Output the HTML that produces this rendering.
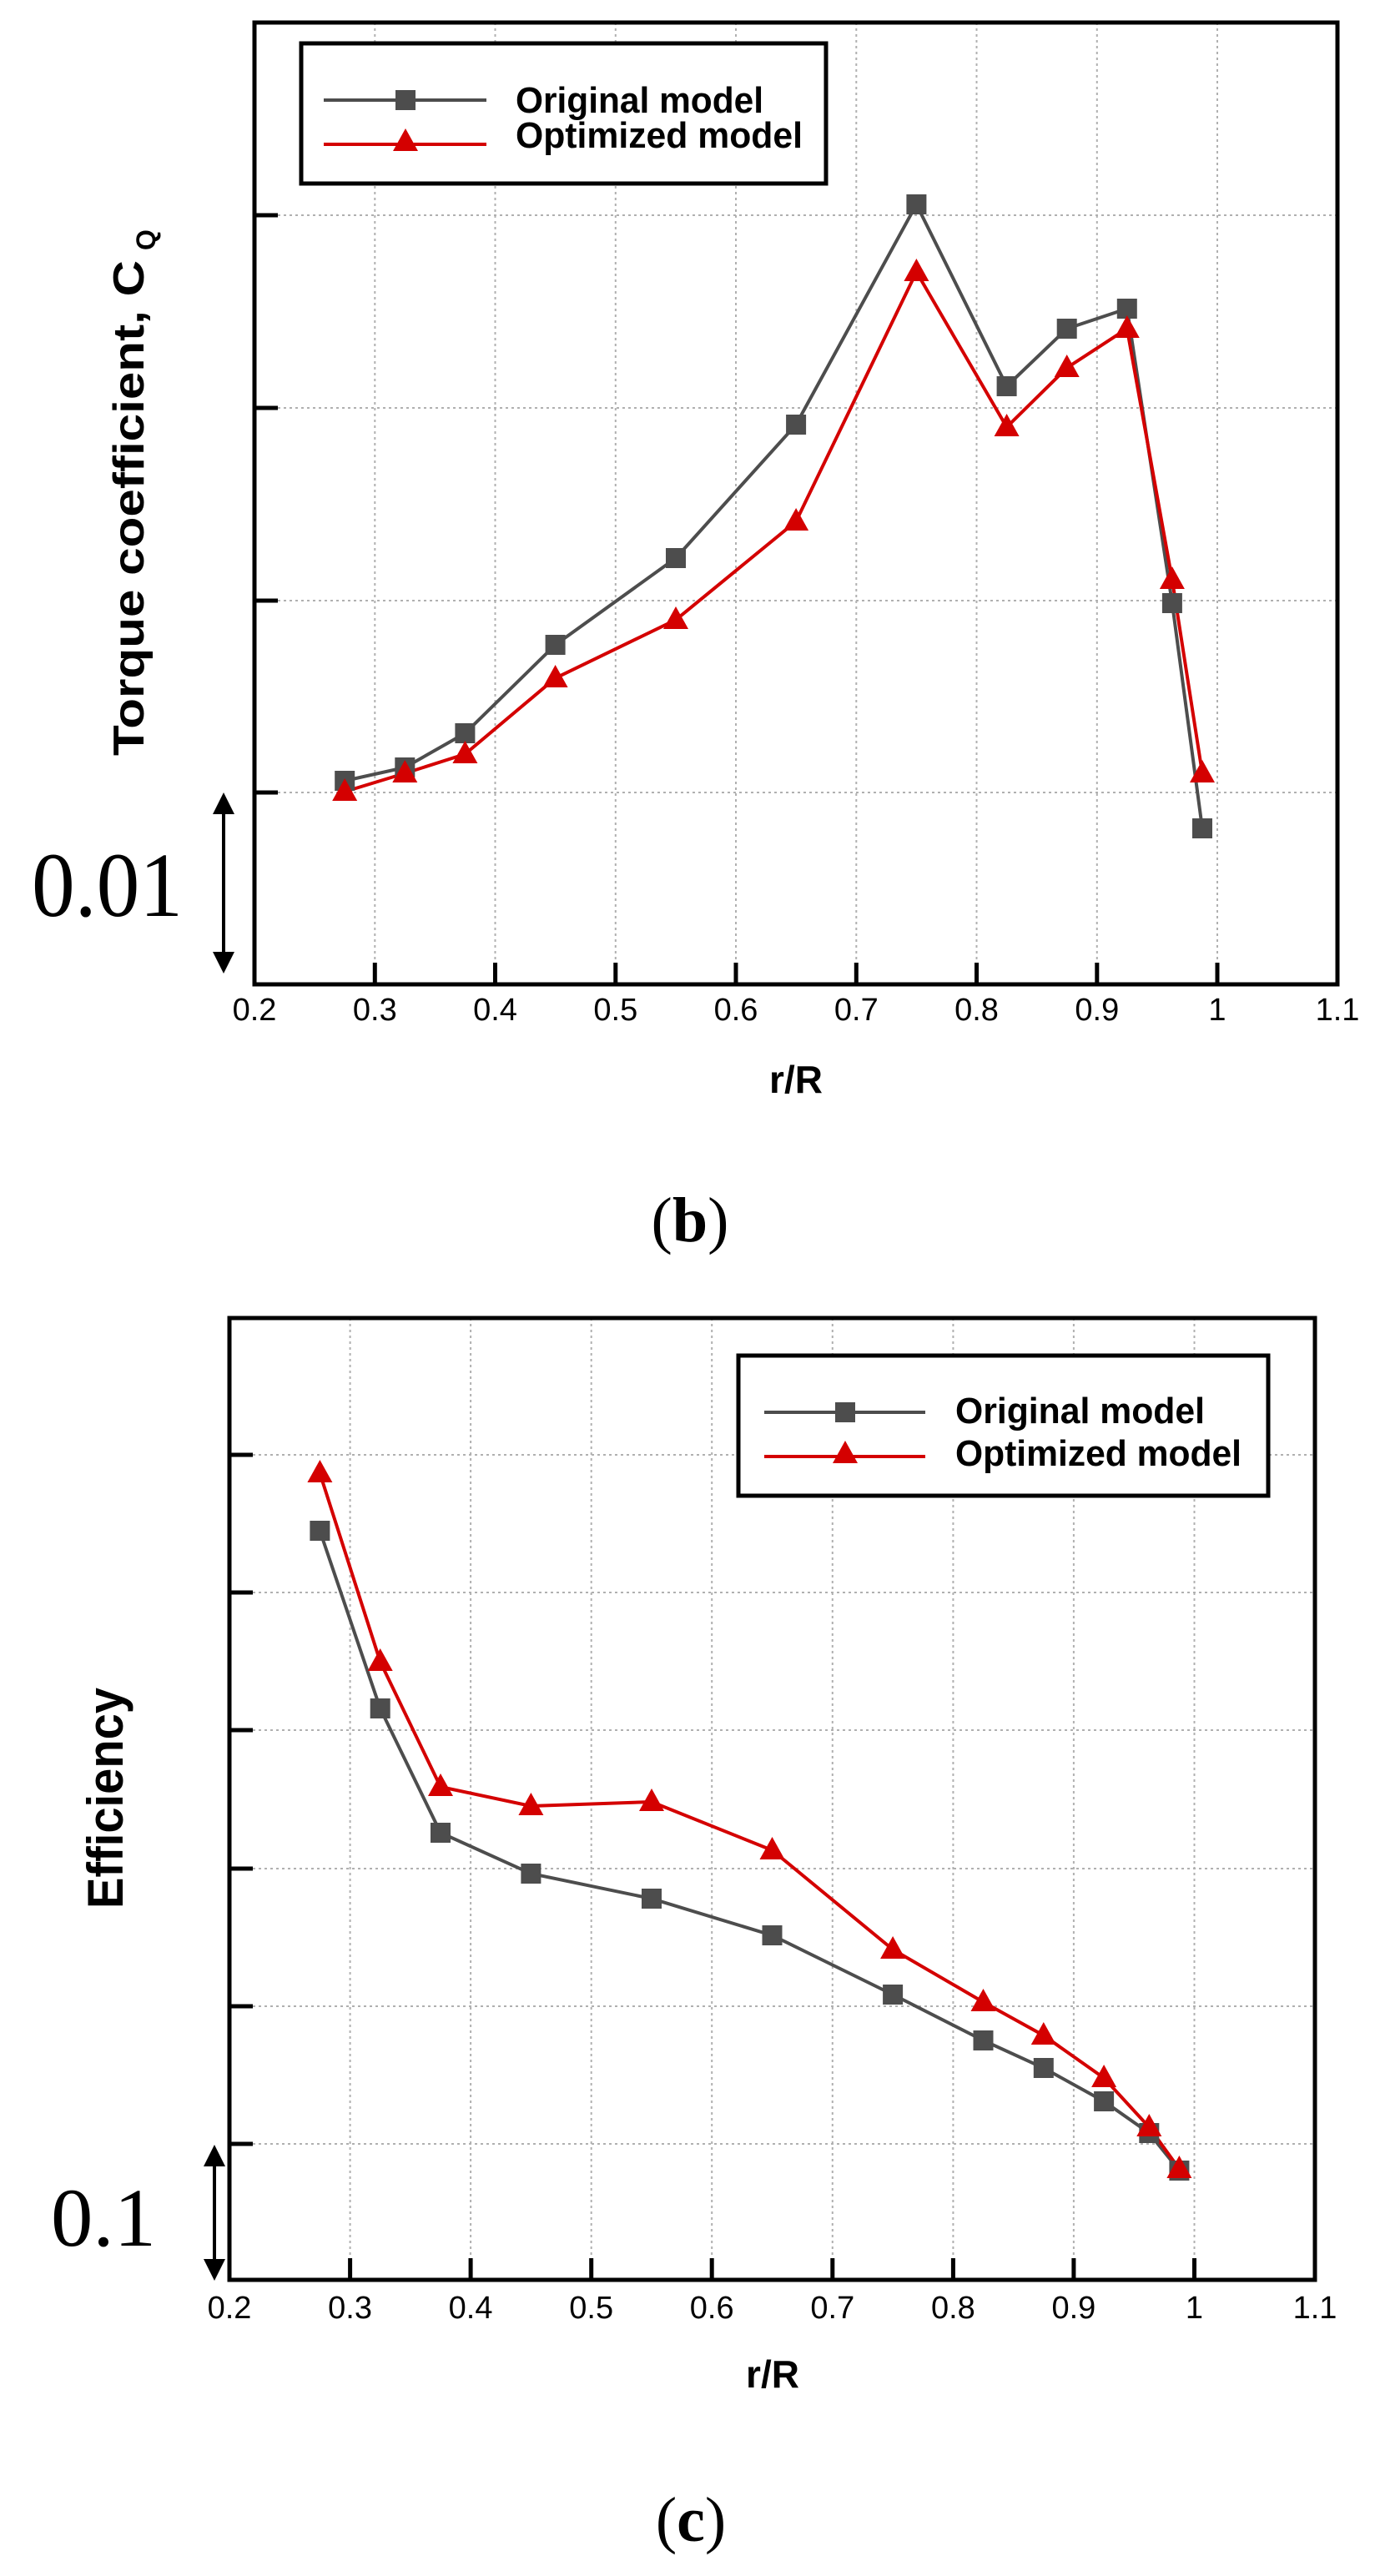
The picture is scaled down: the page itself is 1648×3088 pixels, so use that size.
<!DOCTYPE html>
<html><head><meta charset="utf-8"><style>html,body{margin:0;padding:0;background:#fff}svg{display:block}</style></head>
<body>
<svg width="1648" height="3088" viewBox="0 0 1648 3088" xmlns="http://www.w3.org/2000/svg" font-family="'Liberation Sans', sans-serif">
<rect width="1648" height="3088" fill="#fff"/>
<defs>
<g id="sq"><rect x="-12" y="-12" width="24" height="24" fill="#4d4d4d"/></g>
<g id="tr"><polygon points="0,-16 -15,11 15,11" fill="#d40000"/></g>
</defs>

<!-- ===== Chart b ===== -->
<g stroke="#b0b0b0" stroke-width="2" stroke-dasharray="3,4">
<line x1="449.3" y1="27" x2="449.3" y2="1180"/><line x1="593.5" y1="27" x2="593.5" y2="1180"/>
<line x1="737.8" y1="27" x2="737.8" y2="1180"/><line x1="882" y1="27" x2="882" y2="1180"/>
<line x1="1026.3" y1="27" x2="1026.3" y2="1180"/><line x1="1170.5" y1="27" x2="1170.5" y2="1180"/>
<line x1="1314.8" y1="27" x2="1314.8" y2="1180"/><line x1="1459" y1="27" x2="1459" y2="1180"/>
<line x1="305" y1="258" x2="1603" y2="258"/><line x1="305" y1="489" x2="1603" y2="489"/>
<line x1="305" y1="720" x2="1603" y2="720"/><line x1="305" y1="950" x2="1603" y2="950"/>
</g>
<g stroke="#000" stroke-width="5">
<line x1="305" y1="258" x2="333" y2="258"/><line x1="305" y1="489" x2="333" y2="489"/>
<line x1="305" y1="720" x2="333" y2="720"/><line x1="305" y1="950" x2="333" y2="950"/>
<line x1="449.3" y1="1180" x2="449.3" y2="1154"/><line x1="593.5" y1="1180" x2="593.5" y2="1154"/>
<line x1="737.8" y1="1180" x2="737.8" y2="1154"/><line x1="882" y1="1180" x2="882" y2="1154"/>
<line x1="1026.3" y1="1180" x2="1026.3" y2="1154"/><line x1="1170.5" y1="1180" x2="1170.5" y2="1154"/>
<line x1="1314.8" y1="1180" x2="1314.8" y2="1154"/><line x1="1459" y1="1180" x2="1459" y2="1154"/>
</g>
<rect x="305" y="27" width="1298" height="1153" fill="none" stroke="#000" stroke-width="5"/>

<polyline fill="none" stroke="#4d4d4d" stroke-width="4" points="413.2,936 485.3,920 557.4,879 665.6,773 810,669 954.1,509 1098.4,245 1206.6,463 1278.7,394 1350.8,370 1404.9,723 1441,993"/>
<polyline fill="none" stroke="#d40000" stroke-width="4" points="413.2,949 485.3,927 557.4,904 665.6,813 810,743 954.1,625 1098.4,326 1206.6,512 1278.7,441 1350.8,394 1404.9,695 1441,927"/>
<use href="#sq" x="413.2" y="936"/><use href="#sq" x="485.3" y="920"/><use href="#sq" x="557.4" y="879"/><use href="#sq" x="665.6" y="773"/><use href="#sq" x="810" y="669"/><use href="#sq" x="954.1" y="509"/><use href="#sq" x="1098.4" y="245"/><use href="#sq" x="1206.6" y="463"/><use href="#sq" x="1278.7" y="394"/><use href="#sq" x="1350.8" y="370"/><use href="#sq" x="1404.9" y="723"/><use href="#sq" x="1441" y="993"/>
<use href="#tr" x="413.2" y="949"/><use href="#tr" x="485.3" y="927"/><use href="#tr" x="557.4" y="904"/><use href="#tr" x="665.6" y="813"/><use href="#tr" x="810" y="743"/><use href="#tr" x="954.1" y="625"/><use href="#tr" x="1098.4" y="326"/><use href="#tr" x="1206.6" y="512"/><use href="#tr" x="1278.7" y="441"/><use href="#tr" x="1350.8" y="394"/><use href="#tr" x="1404.9" y="695"/><use href="#tr" x="1441" y="927"/>

<rect x="361" y="52" width="629" height="168" fill="#fff" stroke="#000" stroke-width="5"/>
<line x1="388" y1="120" x2="583" y2="120" stroke="#4d4d4d" stroke-width="4"/><use href="#sq" x="486" y="120"/>
<line x1="388" y1="173" x2="583" y2="173" stroke="#d40000" stroke-width="4"/><use href="#tr" x="486" y="170"/>
<text x="618" y="135" font-size="44" font-weight="bold" textLength="297" lengthAdjust="spacingAndGlyphs">Original model</text>
<text x="618" y="177" font-size="44" font-weight="bold" textLength="344" lengthAdjust="spacingAndGlyphs">Optimized model</text>

<text transform="translate(172,906) rotate(-90)" font-size="52" font-weight="bold" textLength="594" lengthAdjust="spacingAndGlyphs">Torque coefficient, C</text>
<text transform="translate(186,300) rotate(-90)" font-size="32" font-weight="bold">Q</text>

<g font-size="38" text-anchor="middle">
<text x="305" y="1223">0.2</text><text x="449.3" y="1223">0.3</text><text x="593.5" y="1223">0.4</text><text x="737.8" y="1223">0.5</text><text x="882" y="1223">0.6</text><text x="1026.3" y="1223">0.7</text><text x="1170.5" y="1223">0.8</text><text x="1314.8" y="1223">0.9</text><text x="1459" y="1223">1</text><text x="1603" y="1223">1.1</text>
</g>
<text x="954" y="1310" font-size="46" font-weight="bold" text-anchor="middle">r/R</text>
<text x="827" y="1488" font-size="76" text-anchor="middle" font-family="'Liberation Serif', serif">(<tspan font-weight="bold">b</tspan>)</text>

<text x="38" y="1098" font-size="110" font-family="'Liberation Serif', serif" textLength="181" lengthAdjust="spacingAndGlyphs">0.01</text>
<line x1="268" y1="972" x2="268" y2="1146" stroke="#000" stroke-width="4"/>
<polygon points="268,950 255,976 281,976" fill="#000"/>
<polygon points="268,1167 255,1141 281,1141" fill="#000"/>

<!-- ===== Chart c ===== -->
<g stroke="#b0b0b0" stroke-width="2" stroke-dasharray="3,4">
<line x1="419.6" y1="1580" x2="419.6" y2="2733"/><line x1="564.1" y1="1580" x2="564.1" y2="2733"/>
<line x1="708.7" y1="1580" x2="708.7" y2="2733"/><line x1="853.2" y1="1580" x2="853.2" y2="2733"/>
<line x1="997.8" y1="1580" x2="997.8" y2="2733"/><line x1="1142.4" y1="1580" x2="1142.4" y2="2733"/>
<line x1="1286.9" y1="1580" x2="1286.9" y2="2733"/><line x1="1431.5" y1="1580" x2="1431.5" y2="2733"/>
<line x1="275" y1="1744" x2="1576" y2="1744"/><line x1="275" y1="1909" x2="1576" y2="1909"/>
<line x1="275" y1="2074" x2="1576" y2="2074"/><line x1="275" y1="2240" x2="1576" y2="2240"/>
<line x1="275" y1="2405" x2="1576" y2="2405"/><line x1="275" y1="2570" x2="1576" y2="2570"/>
</g>
<g stroke="#000" stroke-width="5">
<line x1="275" y1="1744" x2="303" y2="1744"/><line x1="275" y1="1909" x2="303" y2="1909"/>
<line x1="275" y1="2074" x2="303" y2="2074"/><line x1="275" y1="2240" x2="303" y2="2240"/>
<line x1="275" y1="2405" x2="303" y2="2405"/><line x1="275" y1="2570" x2="303" y2="2570"/>
<line x1="419.6" y1="2733" x2="419.6" y2="2707"/><line x1="564.1" y1="2733" x2="564.1" y2="2707"/>
<line x1="708.7" y1="2733" x2="708.7" y2="2707"/><line x1="853.2" y1="2733" x2="853.2" y2="2707"/>
<line x1="997.8" y1="2733" x2="997.8" y2="2707"/><line x1="1142.4" y1="2733" x2="1142.4" y2="2707"/>
<line x1="1286.9" y1="2733" x2="1286.9" y2="2707"/><line x1="1431.5" y1="2733" x2="1431.5" y2="2707"/>
</g>
<rect x="275" y="1580" width="1301" height="1153" fill="none" stroke="#000" stroke-width="5"/>

<polyline fill="none" stroke="#4d4d4d" stroke-width="4" points="383.4,1835 455.7,2048 528,2197 636.4,2246 781,2276 925.5,2320 1070.1,2391 1178.5,2446 1250.8,2479 1323.1,2519 1377.3,2557 1413.4,2602"/>
<polyline fill="none" stroke="#d40000" stroke-width="4" points="383.4,1766 455.7,1992 528,2142 636.4,2165 781,2160 925.5,2218 1070.1,2337 1178.5,2400 1250.8,2440 1323.1,2491 1377.3,2550 1413.4,2600"/>
<use href="#sq" x="383.4" y="1835"/><use href="#sq" x="455.7" y="2048"/><use href="#sq" x="528" y="2197"/><use href="#sq" x="636.4" y="2246"/><use href="#sq" x="781" y="2276"/><use href="#sq" x="925.5" y="2320"/><use href="#sq" x="1070.1" y="2391"/><use href="#sq" x="1178.5" y="2446"/><use href="#sq" x="1250.8" y="2479"/><use href="#sq" x="1323.1" y="2519"/><use href="#sq" x="1377.3" y="2557"/><use href="#sq" x="1413.4" y="2602"/>
<use href="#tr" x="383.4" y="1766"/><use href="#tr" x="455.7" y="1992"/><use href="#tr" x="528" y="2142"/><use href="#tr" x="636.4" y="2165"/><use href="#tr" x="781" y="2160"/><use href="#tr" x="925.5" y="2218"/><use href="#tr" x="1070.1" y="2337"/><use href="#tr" x="1178.5" y="2400"/><use href="#tr" x="1250.8" y="2440"/><use href="#tr" x="1323.1" y="2491"/><use href="#tr" x="1377.3" y="2550"/><use href="#tr" x="1413.4" y="2600"/>

<rect x="885" y="1625" width="635" height="168" fill="#fff" stroke="#000" stroke-width="5"/>
<line x1="916" y1="1693" x2="1109" y2="1693" stroke="#4d4d4d" stroke-width="4"/><use href="#sq" x="1013" y="1693"/>
<line x1="916" y1="1746" x2="1109" y2="1746" stroke="#d40000" stroke-width="4"/><use href="#tr" x="1013" y="1743"/>
<text x="1145" y="1706" font-size="44" font-weight="bold" textLength="299" lengthAdjust="spacingAndGlyphs">Original model</text>
<text x="1145" y="1757" font-size="44" font-weight="bold" textLength="343" lengthAdjust="spacingAndGlyphs">Optimized model</text>

<text transform="translate(147,2288) rotate(-90)" font-size="60" font-weight="bold" textLength="265" lengthAdjust="spacingAndGlyphs">Efficiency</text>

<g font-size="38" text-anchor="middle">
<text x="275" y="2779">0.2</text><text x="419.6" y="2779">0.3</text><text x="564.1" y="2779">0.4</text><text x="708.7" y="2779">0.5</text><text x="853.2" y="2779">0.6</text><text x="997.8" y="2779">0.7</text><text x="1142.4" y="2779">0.8</text><text x="1286.9" y="2779">0.9</text><text x="1431.5" y="2779">1</text><text x="1576" y="2779">1.1</text>
</g>
<text x="926" y="2862" font-size="46" font-weight="bold" text-anchor="middle">r/R</text>
<text x="828" y="3046" font-size="76" text-anchor="middle" font-family="'Liberation Serif', serif">(<tspan font-weight="bold">c</tspan>)</text>

<text x="61" y="2692" font-size="100" font-family="'Liberation Serif', serif" textLength="126" lengthAdjust="spacingAndGlyphs">0.1</text>
<line x1="257" y1="2593" x2="257" y2="2712" stroke="#000" stroke-width="4"/>
<polygon points="257,2571 244,2597 270,2597" fill="#000"/>
<polygon points="257,2734 244,2708 270,2708" fill="#000"/>
</svg>
</body></html>
